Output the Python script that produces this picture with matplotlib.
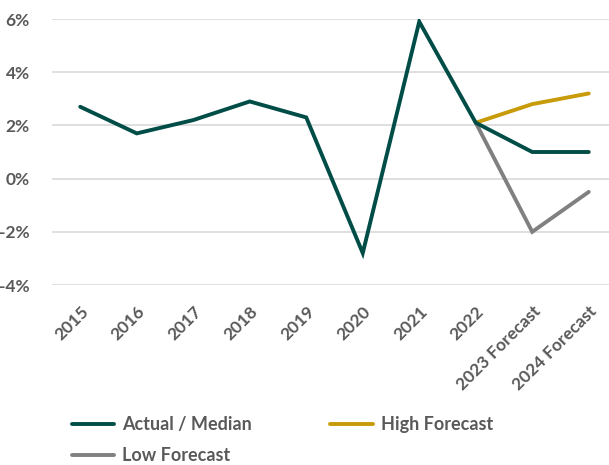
import matplotlib
matplotlib.use("Agg")
import matplotlib.pyplot as plt
from matplotlib.ticker import FuncFormatter

categories = ["2015", "2016", "2017", "2018", "2019", "2020", "2021", "2022",
              "2023 Forecast", "2024 Forecast"]
actual_median = [2.7, 1.7, 2.2, 2.9, 2.3, -2.8, 5.9, 2.1, 1.0, 1.0]
high_forecast = [2.1, 2.8, 3.2]
low_forecast = [2.1, -2.0, -0.5]
forecast_idx = [7, 8, 9]
y_ticks = [-4, -2, 0, 2, 4, 6]

plt.rcParams["font.family"] = ["Lato", "DejaVu Sans"]
text_color = "#595959"
weight = "bold"

fig = plt.figure(figsize=(6.09, 4.65), dpi=100)
ax = fig.add_axes([52 / 609, 1 - 285 / 465, 565 / 609, (285 - 19) / 465])

ax.plot(forecast_idx, high_forecast, color="#C89B0A", lw=2.8,
        solid_capstyle="round", solid_joinstyle="miter", label="High Forecast", zorder=3)
ax.plot(forecast_idx, low_forecast, color="#808080", lw=2.8,
        solid_capstyle="round", solid_joinstyle="miter", label="Low Forecast", zorder=3)
ax.plot(range(len(categories)), actual_median, color="#004D47", lw=2.8,
        solid_capstyle="round", solid_joinstyle="miter", label="Actual / Median", zorder=4)

ax.set_xlim(-0.5, len(categories) - 0.5)
ax.set_ylim(-4, 6)
ax.set_yticks(y_ticks)
ax.yaxis.set_major_formatter(FuncFormatter(lambda v, p: f"{v:.0f}%"))
ax.grid(axis="y", color="#D9D9D9", lw=1.2)
ax.set_axisbelow(True)
for s in ax.spines.values():
    s.set_visible(False)
ax.tick_params(axis="both", length=0, labelcolor=text_color)
ax.tick_params(axis="x", pad=13, labelsize=12.5)
ax.tick_params(axis="y", pad=16, labelsize=12.5)
ax.set_xticks(range(len(categories)))
ax.set_xticklabels(categories, rotation=45, ha="right", rotation_mode="anchor",
                   fontweight=weight)
ax.set_yticklabels([f"{v}%" for v in y_ticks], fontweight=weight)

handles, labels = ax.get_legend_handles_labels()
# column-major fill: first column Actual / Low, second column High
order = [2, 1, 0]
leg = fig.legend([handles[i] for i in order], [labels[i] for i in order],
                 loc="upper left", bbox_to_anchor=(72 / 609, 1 - 416 / 465), ncol=2,
                 frameon=False, handlelength=2.33, handletextpad=0.45,
                 columnspacing=4.35, labelspacing=0.78, borderaxespad=0,
                 borderpad=0, prop={"size": 13, "weight": weight})
for t in leg.get_texts():
    t.set_color(text_color)

fig.savefig("out.png", dpi=100)
